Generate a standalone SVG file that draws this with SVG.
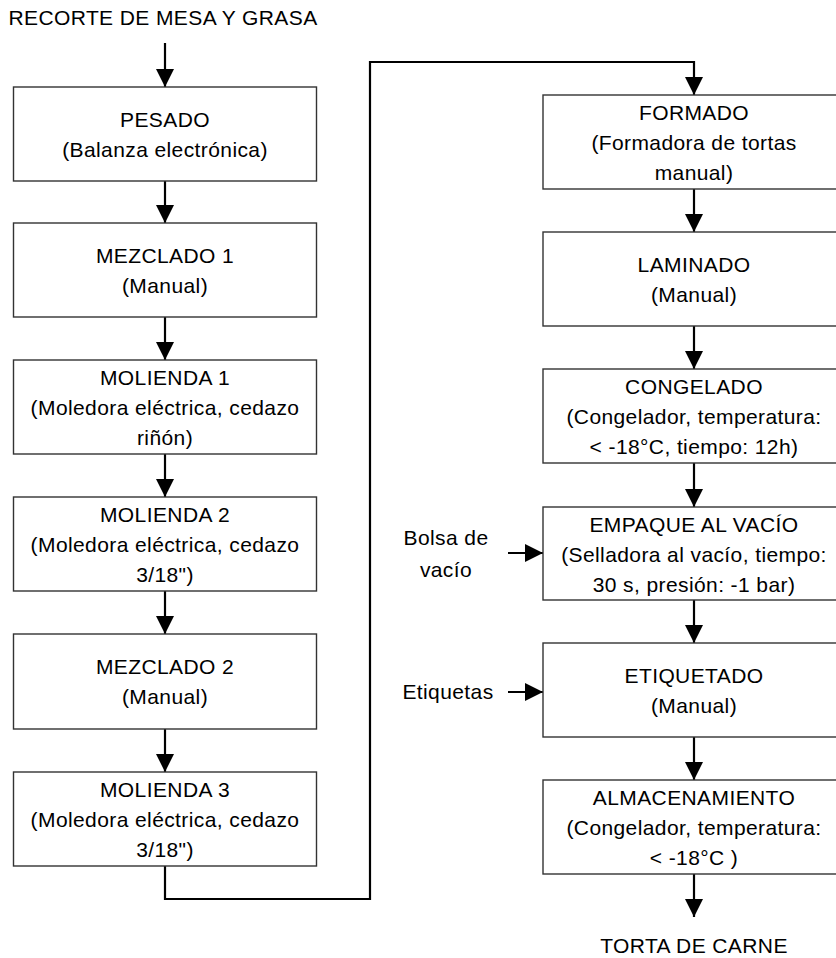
<svg xmlns="http://www.w3.org/2000/svg" width="836" height="958" viewBox="0 0 836 958">
<style>
  .box { fill: #ffffff; stroke: #333333; stroke-width: 1.4; }
  .t { font-family: "Liberation Sans", Arial, sans-serif; font-size: 21px; fill: #000000; text-anchor: middle; letter-spacing: 0.4px; }
  .c { fill: none; stroke: #000000; stroke-width: 2.2; }
</style>
<defs>
  <marker id="ah" markerUnits="userSpaceOnUse" markerWidth="18" markerHeight="18" viewBox="0 0 18 18" refX="18" refY="9" orient="auto">
    <path d="M0,0 L18,9 L0,18 z" fill="#000000"/>
  </marker>
</defs>
<rect width="836" height="958" fill="#ffffff"/>

<g id="connectors">
  <line class="c" x1="165" y1="43" x2="165" y2="87" marker-end="url(#ah)"/>
  <line class="c" x1="165" y1="181" x2="165" y2="223" marker-end="url(#ah)"/>
  <line class="c" x1="165" y1="317" x2="165" y2="360" marker-end="url(#ah)"/>
  <line class="c" x1="165" y1="454" x2="165" y2="497" marker-end="url(#ah)"/>
  <line class="c" x1="165" y1="591" x2="165" y2="634" marker-end="url(#ah)"/>
  <line class="c" x1="165" y1="729" x2="165" y2="772" marker-end="url(#ah)"/>
  <polyline class="c" points="165,866 165,899 370,899 370,62 694,62 694,95" marker-end="url(#ah)"/>
  <line class="c" x1="694" y1="189" x2="694" y2="232" marker-end="url(#ah)"/>
  <line class="c" x1="694" y1="326" x2="694" y2="369" marker-end="url(#ah)"/>
  <line class="c" x1="694" y1="463" x2="694" y2="507" marker-end="url(#ah)"/>
  <line class="c" x1="694" y1="600" x2="694" y2="643" marker-end="url(#ah)"/>
  <line class="c" x1="694" y1="737" x2="694" y2="780" marker-end="url(#ah)"/>
  <line class="c" x1="694" y1="874" x2="694" y2="917" marker-end="url(#ah)"/>
  <line class="c" x1="508" y1="553" x2="543" y2="553" marker-end="url(#ah)"/>
  <line class="c" x1="508" y1="692" x2="543" y2="692" marker-end="url(#ah)"/>
</g>

<g id="input-top">
  <text class="t" x="163" y="25">RECORTE DE MESA Y GRASA</text>
</g>

<g id="pesado">
  <rect class="box" x="13.5" y="87" width="303" height="94"/>
  <text class="t" x="165" y="127">PESADO</text>
  <text class="t" x="165" y="157">(Balanza electrónica)</text>
</g>

<g id="mezclado1">
  <rect class="box" x="13.5" y="223" width="303" height="94"/>
  <text class="t" x="165" y="263">MEZCLADO 1</text>
  <text class="t" x="165" y="293">(Manual)</text>
</g>

<g id="molienda1">
  <rect class="box" x="13.5" y="360" width="303" height="94"/>
  <text class="t" x="165" y="385">MOLIENDA 1</text>
  <text class="t" x="165" y="415">(Moledora eléctrica, cedazo</text>
  <text class="t" x="165" y="445">riñón)</text>
</g>

<g id="molienda2">
  <rect class="box" x="13.5" y="497" width="303" height="94"/>
  <text class="t" x="165" y="522">MOLIENDA 2</text>
  <text class="t" x="165" y="552">(Moledora eléctrica, cedazo</text>
  <text class="t" x="165" y="582">3/18")</text>
</g>

<g id="mezclado2">
  <rect class="box" x="13.5" y="634" width="303" height="95"/>
  <text class="t" x="165" y="674">MEZCLADO 2</text>
  <text class="t" x="165" y="704">(Manual)</text>
</g>

<g id="molienda3">
  <rect class="box" x="13.5" y="772" width="303" height="94"/>
  <text class="t" x="165" y="797">MOLIENDA 3</text>
  <text class="t" x="165" y="827">(Moledora eléctrica, cedazo</text>
  <text class="t" x="165" y="857">3/18")</text>
</g>

<g id="formado">
  <rect class="box" x="543" y="95" width="302" height="94"/>
  <text class="t" x="694" y="120">FORMADO</text>
  <text class="t" x="694" y="150">(Formadora de tortas</text>
  <text class="t" x="694" y="180">manual)</text>
</g>

<g id="laminado">
  <rect class="box" x="543" y="232" width="302" height="94"/>
  <text class="t" x="694" y="272">LAMINADO</text>
  <text class="t" x="694" y="302">(Manual)</text>
</g>

<g id="congelado">
  <rect class="box" x="543" y="369" width="302" height="94"/>
  <text class="t" x="694" y="394">CONGELADO</text>
  <text class="t" x="694" y="424">(Congelador, temperatura:</text>
  <text class="t" x="694" y="454">&lt; -18°C, tiempo: 12h)</text>
</g>

<g id="empaque">
  <rect class="box" x="543" y="507" width="302" height="93"/>
  <text class="t" x="694" y="532">EMPAQUE AL VACÍO</text>
  <text class="t" x="694" y="562">(Selladora al vacío, tiempo:</text>
  <text class="t" x="694" y="592">30 s, presión: -1 bar)</text>
</g>

<g id="bolsa">
  <text class="t" x="446" y="545">Bolsa de</text>
  <text class="t" x="446" y="577">vacío</text>
</g>

<g id="etiquetado">
  <rect class="box" x="543" y="643" width="302" height="94"/>
  <text class="t" x="694" y="683">ETIQUETADO</text>
  <text class="t" x="694" y="713">(Manual)</text>
</g>

<g id="etiquetas">
  <text class="t" x="448" y="699">Etiquetas</text>
</g>

<g id="almacenamiento">
  <rect class="box" x="543" y="780" width="302" height="94"/>
  <text class="t" x="694" y="805">ALMACENAMIENTO</text>
  <text class="t" x="694" y="835">(Congelador, temperatura:</text>
  <text class="t" x="694" y="865">&lt; -18°C )</text>
</g>

<g id="output-bottom">
  <text class="t" x="694" y="953">TORTA DE CARNE</text>
</g>
</svg>
